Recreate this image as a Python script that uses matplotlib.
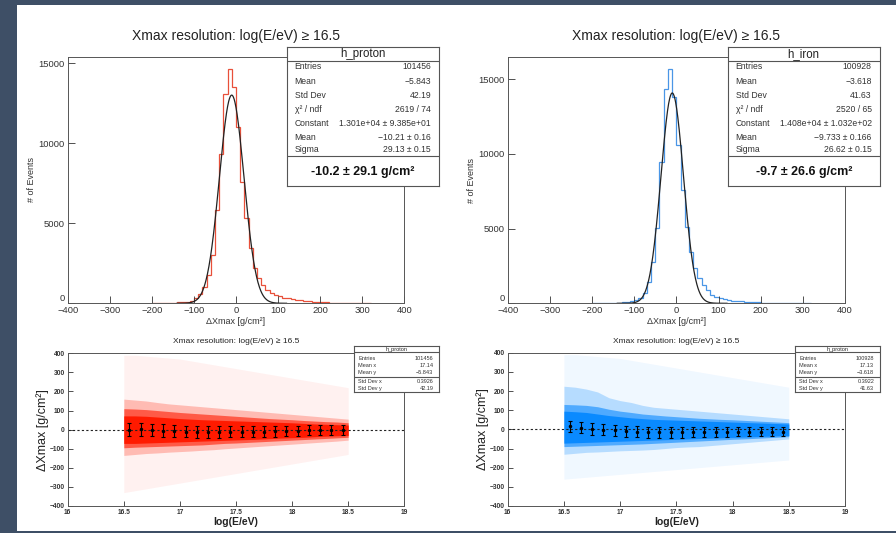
import numpy as np
import matplotlib
matplotlib.use("Agg")
import matplotlib.pyplot as plt
from matplotlib.patches import Rectangle

plt.rcParams['font.family'] = ['Liberation Sans', 'DejaVu Sans']

# ---- top histograms: delta Xmax, 10 g/cm2 bins from -200 to 320
edges = np.arange(-200, 330, 10)
proton_counts = [0, 0, 15, 20, 25, 35, 50, 75, 110, 170,
                 300, 560, 1040, 1770, 3020, 5830, 9310, 13060, 14640, 13540,
                 11040, 7600, 5310, 3480, 2190, 1560, 1140, 830, 625, 520,
                 430, 360, 300, 250, 210, 180, 150, 120, 100, 85,
                 70, 55, 45, 38, 30, 25, 20, 0, 0, 0,
                 0, 0]
iron_counts = [0, 0, 0, 15, 20, 30, 40, 60, 90, 140,
               200, 335, 670, 1450, 2790, 5020, 9440, 14330, 15690, 13790,
               10600, 7590, 5130, 3460, 2340, 1670, 1225, 890, 555, 420,
               330, 270, 220, 180, 150, 125, 100, 85, 70, 60,
               50, 42, 35, 30, 25, 20, 15, 12, 10, 8,
               5, 0]

# gaussian fit results printed in the stat boxes (constant, mean, sigma)
proton_fit = (1.301e4, -10.21, 29.13)
iron_fit = (1.408e4, -9.733, 26.62)

proton_stats = [("Entries", "101456"), ("Mean", "\u22125.843"), ("Std Dev", "42.19"),
                ("\u03c7\u00b2 / ndf", "2619 / 74"), ("Constant", "1.301e+04 \u00b1 9.385e+01"),
                ("Mean", "\u221210.21 \u00b1 0.16"), ("Sigma", "29.13 \u00b1 0.15")]
iron_stats = [("Entries", "100928"), ("Mean", "\u22123.618"), ("Std Dev", "41.63"),
              ("\u03c7\u00b2 / ndf", "2520 / 65"), ("Constant", "1.408e+04 \u00b1 1.032e+02"),
              ("Mean", "\u22129.733 \u00b1 0.166"), ("Sigma", "26.62 \u00b1 0.15")]
proton_result = "-10.2 \u00b1 29.1 g/cm\u00b2"
iron_result = "-9.7 \u00b1 26.6 g/cm\u00b2"

# ---- bottom: delta Xmax vs log(E/eV), point cloud drawn as density bands
energy = [16.5, 16.6, 16.7, 16.8, 16.9, 17.0, 17.1, 17.2, 17.3, 17.4, 17.5,
          17.6, 17.7, 17.8, 17.9, 18.0, 18.1, 18.2, 18.3, 18.4, 18.5]
p_core_hi = [72, 72, 70, 66, 62, 58, 55, 52, 50, 48, 46, 44, 42, 40, 38, 36, 33, 30, 28, 26, 24]
p_core_lo = [-72, -72, -70, -68, -66, -64, -62, -60, -58, -56, -54, -52, -50, -47, -44, -42, -40, -37, -34, -32, -30]
p_mid_hi = [110, 108, 105, 100, 95, 90, 86, 82, 78, 74, 70, 66, 62, 58, 55, 52, 48, 45, 42, 40, 36]
p_mid_lo = [-95, -92, -90, -88, -86, -84, -82, -80, -76, -72, -70, -67, -64, -61, -58, -55, -52, -49, -46, -43, -40]
p_out_hi = [160, 155, 150, 142, 135, 130, 125, 120, 115, 110, 105, 100, 95, 90, 85, 80, 75, 70, 65, 60, 55]
p_out_lo = [-135, -130, -125, -122, -118, -115, -112, -108, -105, -100, -96, -92, -88, -84, -80, -76, -72, -68, -64, -60, -55]
p_halo_hi = [390, 390, 385, 380, 375, 370, 360, 350, 340, 330, 320, 310, 300, 290, 280, 270, 260, 250, 240, 230, 220]
p_halo_lo = [-330, -320, -310, -300, -290, -280, -270, -260, -250, -240, -230, -220, -210, -200, -190, -180, -170, -160, -150, -140, -130]

i_core_hi = [95, 92, 88, 80, 72, 66, 60, 56, 52, 50, 48, 46, 44, 42, 40, 38, 36, 34, 32, 30, 28]
i_core_lo = [-72, -70, -68, -66, -64, -62, -60, -58, -56, -54, -52, -50, -48, -46, -44, -42, -40, -38, -36, -34, -32]
i_mid_hi = [130, 128, 125, 118, 105, 95, 88, 80, 75, 70, 66, 62, 58, 55, 52, 50, 47, 44, 41, 38, 35]
i_mid_lo = [-90, -88, -86, -84, -82, -80, -78, -76, -73, -70, -67, -64, -61, -58, -55, -52, -50, -47, -44, -41, -38]
i_out_hi = [225, 220, 210, 195, 165, 150, 140, 125, 115, 110, 105, 100, 95, 90, 85, 80, 75, 70, 65, 60, 55]
i_out_lo = [-130, -125, -120, -118, -115, -112, -110, -108, -105, -100, -95, -92, -90, -85, -80, -75, -70, -65, -60, -55, -50]
i_halo_hi = [390, 390, 385, 380, 375, 370, 360, 350, 340, 330, 320, 310, 300, 290, 280, 270, 260, 250, 240, 230, 220]
i_halo_lo = [-260, -255, -250, -245, -240, -235, -230, -225, -220, -215, -210, -205, -200, -195, -190, -185, -180, -175, -170, -165, -160]

prof_e = [16.55, 16.65, 16.75, 16.85, 16.95, 17.05, 17.15, 17.25, 17.35, 17.45,
          17.55, 17.65, 17.75, 17.85, 17.95, 18.05, 18.15, 18.25, 18.35, 18.45]
p_prof_mean = [0, 2, -2, -5, -8, -10, -12, -12, -12, -12, -12, -10, -10, -8, -8, -5, -3, -3, -2, -3]
p_prof_err = [33, 33, 32, 32, 31, 31, 30, 30, 30, 29, 29, 29, 28, 28, 27, 26, 26, 25, 25, 25]
i_prof_mean = [15, 9, 2, -3, -4, -10, -12, -16, -16, -16, -16, -14, -13, -12, -12, -12, -12, -12, -12, -12]
i_prof_err = [30, 30, 30, 29, 29, 29, 28, 28, 28, 27, 27, 27, 26, 26, 26, 25, 25, 25, 24, 24]

proton_stats2 = [("Entries", "101456"), ("Mean x", "17.14"), ("Mean y", "\u22125.843"),
                 ("Std Dev x", "0.3926"), ("Std Dev y", "42.19")]
iron_stats2 = [("Entries", "100928"), ("Mean x", "17.13"), ("Mean y", "\u22123.618"),
               ("Std Dev x", "0.3922"), ("Std Dev y", "41.63")]

title = "Xmax resolution: log(E/eV) \u2265 16.5"

W, H = 896, 533
fig = plt.figure(figsize=(W / 100, H / 100), dpi=100)
fig.patch.set_facecolor('#3e4f66')
fig.add_artist(Rectangle((17 / W, 1 - 531 / H), (W - 17) / W, 526 / H,
                         transform=fig.transFigure, facecolor='white', edgecolor='none', zorder=0))


def px_axes(x0, y0, x1, y1):
    return fig.add_axes([x0 / W, 1 - y1 / H, (x1 - x0) / W, (y1 - y0) / H])


def style(ax, size, bold=False):
    ax.tick_params(direction='in', length=5, width=0.6, labelsize=size, colors='#333333', pad=2)
    for s in ax.spines.values():
        s.set_linewidth(0.7)
        s.set_color('#555555')
    if bold:
        for t in ax.get_xticklabels() + ax.get_yticklabels():
            t.set_fontweight('bold')


def hist_panel(x0, y0, x1, y1, counts, fit, color, ymax):
    ax = px_axes(x0, y0, x1, y1)
    ax.stairs(counts, edges, color=color, lw=0.9)
    c, m, s = fit
    xf = np.linspace(-140, 120, 300)
    ax.plot(xf, c * np.exp(-0.5 * ((xf - m) / s) ** 2), color='#222222', lw=0.9)
    ax.set_xlim(-400, 400)
    ax.set_ylim(0, ymax)
    ax.set_xticks(range(-400, 401, 100))
    ax.set_yticks([0, 5000, 10000, 15000])
    style(ax, 6.8)
    ax.yaxis.get_major_ticks()[0].label1.set_verticalalignment('bottom')
    ax.set_xlabel("\u0394Xmax [g/cm\u00b2]", fontsize=6.5, color='#333333')
    ax.set_ylabel("# of Events", fontsize=6.5, color='#333333')
    ax.xaxis.set_label_coords(0.5, -0.056)
    ax.yaxis.set_label_coords(-0.094, 0.5)
    return ax


def scatter_panel(x0, y0, x1, y1, layers, color, pm, pe):
    ax = px_axes(x0, y0, x1, y1)
    alphas = [0.06, 0.25, 0.6, 1.0]
    for (lo, hi), a in zip(layers, alphas):
        ax.fill_between(energy, lo, hi, color=color, alpha=a, lw=0)
    ax.axhline(0, color='#222222', lw=0.8, ls=(0, (2, 2)))
    ax.errorbar(prof_e, pm, yerr=pe, fmt='o', ms=1.5, color='k', elinewidth=0.8,
                capsize=1.5, capthick=0.8)
    ax.set_xlim(16, 19)
    ax.set_ylim(-400, 400)
    ax.set_xticks([16, 16.5, 17, 17.5, 18, 18.5, 19])
    ax.set_xticklabels(['16', '16.5', '17', '17.5', '18', '18.5', '19'])
    ax.set_yticks(range(-400, 401, 100))
    style(ax, 4.8, bold=True)
    ax.tick_params(length=3.5)
    ax.set_xlabel("log(E/eV)", fontsize=7.5, fontweight='bold', color='#222222')
    ax.set_ylabel("\u0394Xmax [g/cm\u00b2]", fontsize=9, color='#222222')
    ax.xaxis.set_label_coords(0.5, -0.075)
    ax.yaxis.set_label_coords(-0.056, 0.5)
    return ax


def stat_box(x0, y0, x1, y1, header, rows, head_h, row_y, lx, rx, hfs, rfs,
             lines, result=None, res_y=None):
    bx = px_axes(x0, y0, x1, y1)
    bx.set_xlim(0, x1 - x0)
    bx.set_ylim(y1 - y0, 0)
    bx.set_xticks([])
    bx.set_yticks([])
    bx.set_facecolor('white')
    for s in bx.spines.values():
        s.set_linewidth(0.8)
        s.set_color('#555555')
    bx.text((x1 - x0) / 2, head_h / 2, header, ha='center', va='center', fontsize=hfs, color='#222222')
    bx.axhline(head_h, color='#555555', lw=0.8)
    for yy in lines:
        bx.axhline(yy, color='#555555', lw=0.8)
    for (k, v), yy in zip(rows, row_y):
        bx.text(lx, yy, k, ha='left', va='center', fontsize=rfs, color='#333333')
        bx.text(rx, yy, v, ha='right', va='center', fontsize=rfs, color='#333333')
    if result:
        bx.text((x1 - x0) / 2, res_y, result, ha='center', va='center', fontsize=9,
                fontweight='bold', color='#111111')


# top row
hist_panel(67.7, 56.7, 404.3, 303.3, proton_counts, proton_fit, '#e8503a', 15410)
hist_panel(507.7, 57.3, 845, 303.3, iron_counts, iron_fit, '#4a96e6', 16470)
fig.text(235.7 / W, 1 - 35.7 / H, title, ha='center', va='center', fontsize=10, color='#222222')
fig.text(676 / W, 1 - 35.7 / H, title, ha='center', va='center', fontsize=10, color='#222222')

top_rows_y = [20, 35, 49, 62.6, 76.6, 90.6, 103.3]
stat_box(287.3, 46.7, 438.7, 185.7, "h_proton", proton_stats, 14, top_rows_y, 7.4, 143.7,
         8.3, 6.2, [109.3], proton_result, 125)
stat_box(727.7, 46.7, 879.7, 185.7, "h_iron", iron_stats, 14, top_rows_y, 8, 144,
         8.3, 6.2, [109.3], iron_result, 125)

# bottom row
scatter_panel(67.7, 353.3, 404.3, 506,
              [(p_halo_lo, p_halo_hi), (p_out_lo, p_out_hi), (p_mid_lo, p_mid_hi), (p_core_lo, p_core_hi)],
              '#ff1a00', p_prof_mean, p_prof_err)
scatter_panel(507.7, 352.7, 845, 506,
              [(i_halo_lo, i_halo_hi), (i_out_lo, i_out_hi), (i_mid_lo, i_mid_hi), (i_core_lo, i_core_hi)],
              '#0a8aff', i_prof_mean, i_prof_err)
fig.text(235.7 / W, 1 - 341.7 / H, title, ha='center', va='center', fontsize=6, color='#222222')
fig.text(676 / W, 1 - 341.7 / H, title, ha='center', va='center', fontsize=6, color='#222222')

bot_rows_y = [12, 19.7, 26.3, 35.7, 42.3]
stat_box(354.3, 346, 438.7, 392.3, "h_proton", proton_stats2, 6, bot_rows_y, 4, 79,
         4, 4, [31])
stat_box(795, 346, 879.7, 392.3, "h_proton", iron_stats2, 6, bot_rows_y, 4, 79,
         4, 4, [31])

fig.savefig("out.png", dpi=100, facecolor=fig.get_facecolor())
